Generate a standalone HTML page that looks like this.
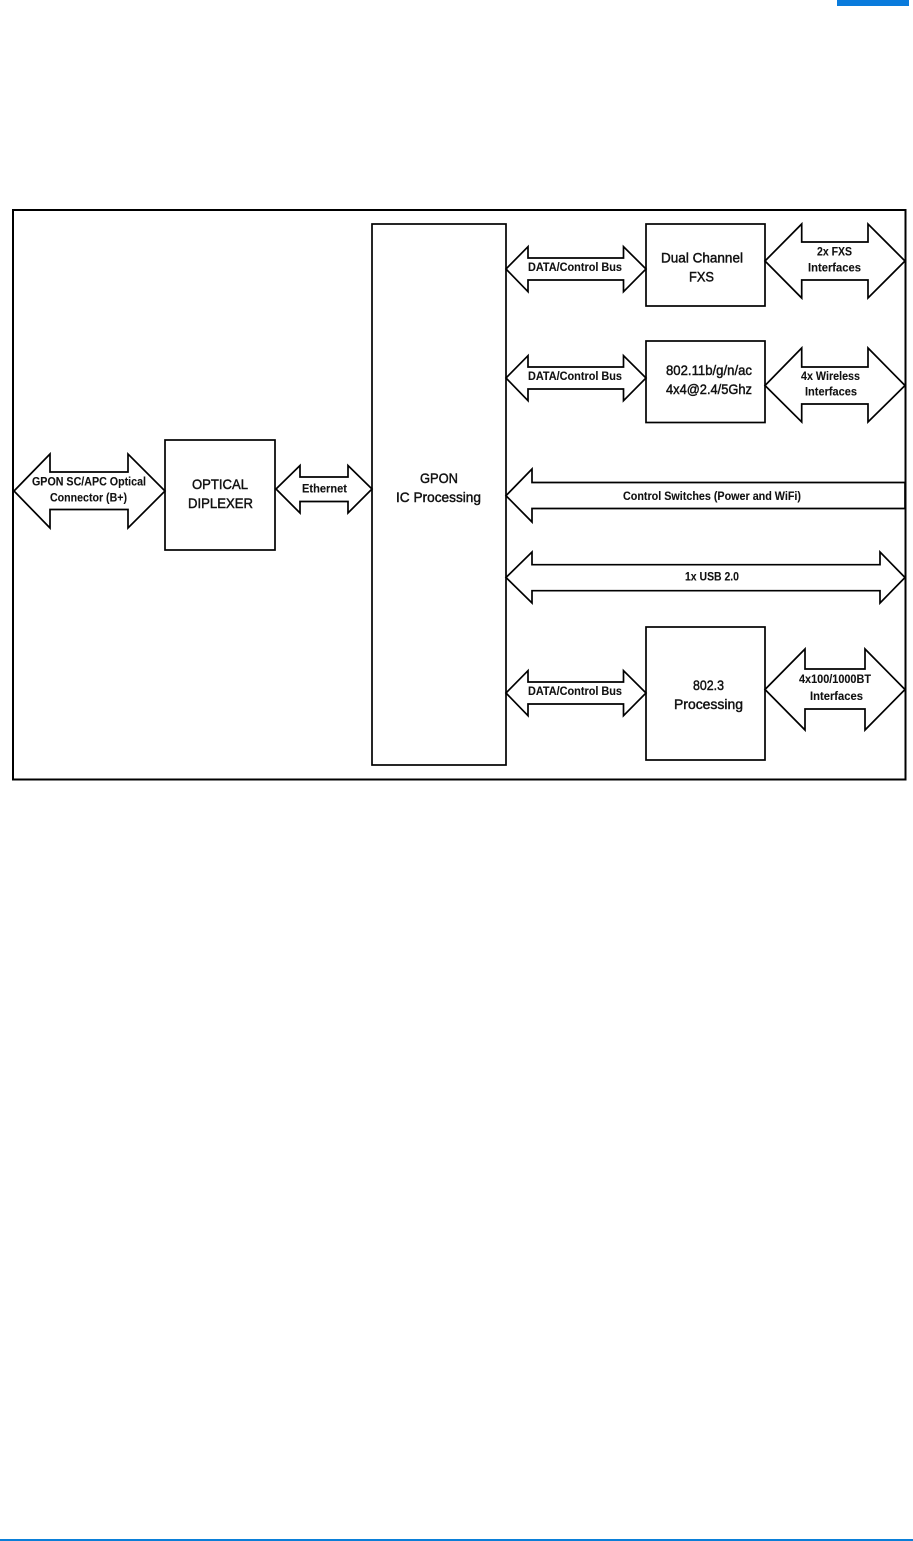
<!DOCTYPE html>
<html>
<head>
<meta charset="utf-8">
<style>
html,body{margin:0;padding:0;background:#fff;width:913px;height:1541px;overflow:hidden}
svg{display:block}
.s{fill:#fff;stroke:#000;stroke-width:1.7;stroke-linejoin:miter;stroke-miterlimit:10}
.b{fill:#fff;stroke:#000;stroke-width:1.7}
text{font-family:"Liberation Sans",sans-serif;fill:#111}
.a{font-size:11.5px;font-weight:bold;stroke:#111;stroke-width:.1}
.m{font-size:14px;stroke:#111;stroke-width:.45}
</style>
</head>
<body>
<svg width="913" height="1541" viewBox="0 0 913 1541" xmlns="http://www.w3.org/2000/svg">
<rect x="837" y="0" width="72" height="6" fill="#0a7bdc"/>
<rect x="0" y="1539" width="913" height="2" fill="#0a7fd8"/>
<rect x="13" y="210" width="892.5" height="569.5" fill="#fff" stroke="#000" stroke-width="2"/>

<rect class="b" x="372" y="224" width="134" height="541"/>
<rect class="b" x="165" y="440" width="110" height="110"/>
<rect class="b" x="646" y="224" width="119" height="82"/>
<rect class="b" x="646" y="341" width="119" height="81.5"/>
<rect class="b" x="646" y="627" width="119" height="133"/>

<polygon class="s" points="14,491 50,454 50,472 128,472 128,454 165,491 128,528 128,509.5 50,509.5 50,528"/>
<polygon class="s" points="276,489 300,465.5 300,477 348,477 348,465.5 372,489 348,513 348,501.5 300,501.5 300,513"/>
<polygon class="s" points="506,269 528,246.7 528,258 623.5,258 623.5,246.7 646,269 623.5,291.7 623.5,280 528,280 528,291.7"/>
<polygon class="s" points="765,261 801.7,224 801.7,242 868,242 868,224 905,261 868,298 868,280 801.7,280 801.7,298"/>
<polygon class="s" points="506,378 528,355.7 528,367 623.5,367 623.5,355.7 646,378 623.5,400.7 623.5,389 528,389 528,400.7"/>
<polygon class="s" points="765,385.5 801.7,348 801.7,367 868,367 868,348 905,385.5 868,422 868,404 801.7,404 801.7,422"/>
<polygon class="s" points="905,482.5 532,482.5 532,469 506,495.7 532,522 532,508.5 905,508.5"/>
<polygon class="s" points="506,577.5 532,552 532,564.7 880,564.7 880,552 905,577.5 880,603 880,590.7 532,590.7 532,603"/>
<polygon class="s" points="506,693 528,670.7 528,682 623.5,682 623.5,670.7 646,693 623.5,715.7 623.5,704 528,704 528,715.7"/>
<polygon class="s" points="765,689.5 805,649 805,669 865,669 865,649 905,689.5 865,730 865,709 805,709 805,730"/>
<line x1="905.5" y1="210" x2="905.5" y2="779.5" stroke="#000" stroke-width="2"/>

<text class="a" x="32" y="485.5" textLength="114" lengthAdjust="spacingAndGlyphs">GPON SC/APC Optical</text>
<text class="a" x="50" y="501.5" textLength="77" lengthAdjust="spacingAndGlyphs">Connector (B+)</text>
<text class="m" x="192" y="489" textLength="56" lengthAdjust="spacingAndGlyphs">OPTICAL</text>
<text class="m" x="188" y="508" textLength="65" lengthAdjust="spacingAndGlyphs">DIPLEXER</text>
<text class="a" x="302" y="492.5" textLength="45" lengthAdjust="spacingAndGlyphs">Ethernet</text>
<text class="m" x="420" y="483" textLength="38" lengthAdjust="spacingAndGlyphs">GPON</text>
<text class="m" x="396" y="502" textLength="85" lengthAdjust="spacingAndGlyphs">IC Processing</text>
<text class="a" x="528" y="271" textLength="94" lengthAdjust="spacingAndGlyphs">DATA/Control Bus</text>
<text class="a" x="528" y="380" textLength="94" lengthAdjust="spacingAndGlyphs">DATA/Control Bus</text>
<text class="a" x="528" y="695" textLength="94" lengthAdjust="spacingAndGlyphs">DATA/Control Bus</text>
<text class="m" x="661" y="262.5" textLength="82" lengthAdjust="spacingAndGlyphs">Dual Channel</text>
<text class="m" x="689" y="281.5" textLength="25" lengthAdjust="spacingAndGlyphs">FXS</text>
<text class="a" x="817" y="255.5" textLength="35" lengthAdjust="spacingAndGlyphs">2x FXS</text>
<text class="a" x="808" y="271.5" textLength="53" lengthAdjust="spacingAndGlyphs">Interfaces</text>
<text class="m" x="666" y="375" textLength="86" lengthAdjust="spacingAndGlyphs">802.11b/g/n/ac</text>
<text class="m" x="666" y="394" textLength="86" lengthAdjust="spacingAndGlyphs">4x4@2.4/5Ghz</text>
<text class="a" x="801" y="380" textLength="59" lengthAdjust="spacingAndGlyphs">4x Wireless</text>
<text class="a" x="805" y="395.5" textLength="52" lengthAdjust="spacingAndGlyphs">Interfaces</text>
<text class="a" x="623" y="500" textLength="178" lengthAdjust="spacingAndGlyphs">Control Switches (Power and WiFi)</text>
<text class="a" x="685" y="580.5" textLength="54" lengthAdjust="spacingAndGlyphs">1x USB 2.0</text>
<text class="m" x="693" y="690" textLength="31" lengthAdjust="spacingAndGlyphs">802.3</text>
<text class="m" x="674" y="709" textLength="69" lengthAdjust="spacingAndGlyphs">Processing</text>
<text class="a" x="799" y="683" textLength="72" lengthAdjust="spacingAndGlyphs">4x100/1000BT</text>
<text class="a" x="810" y="700" textLength="53" lengthAdjust="spacingAndGlyphs">Interfaces</text>
</svg>
</body>
</html>
